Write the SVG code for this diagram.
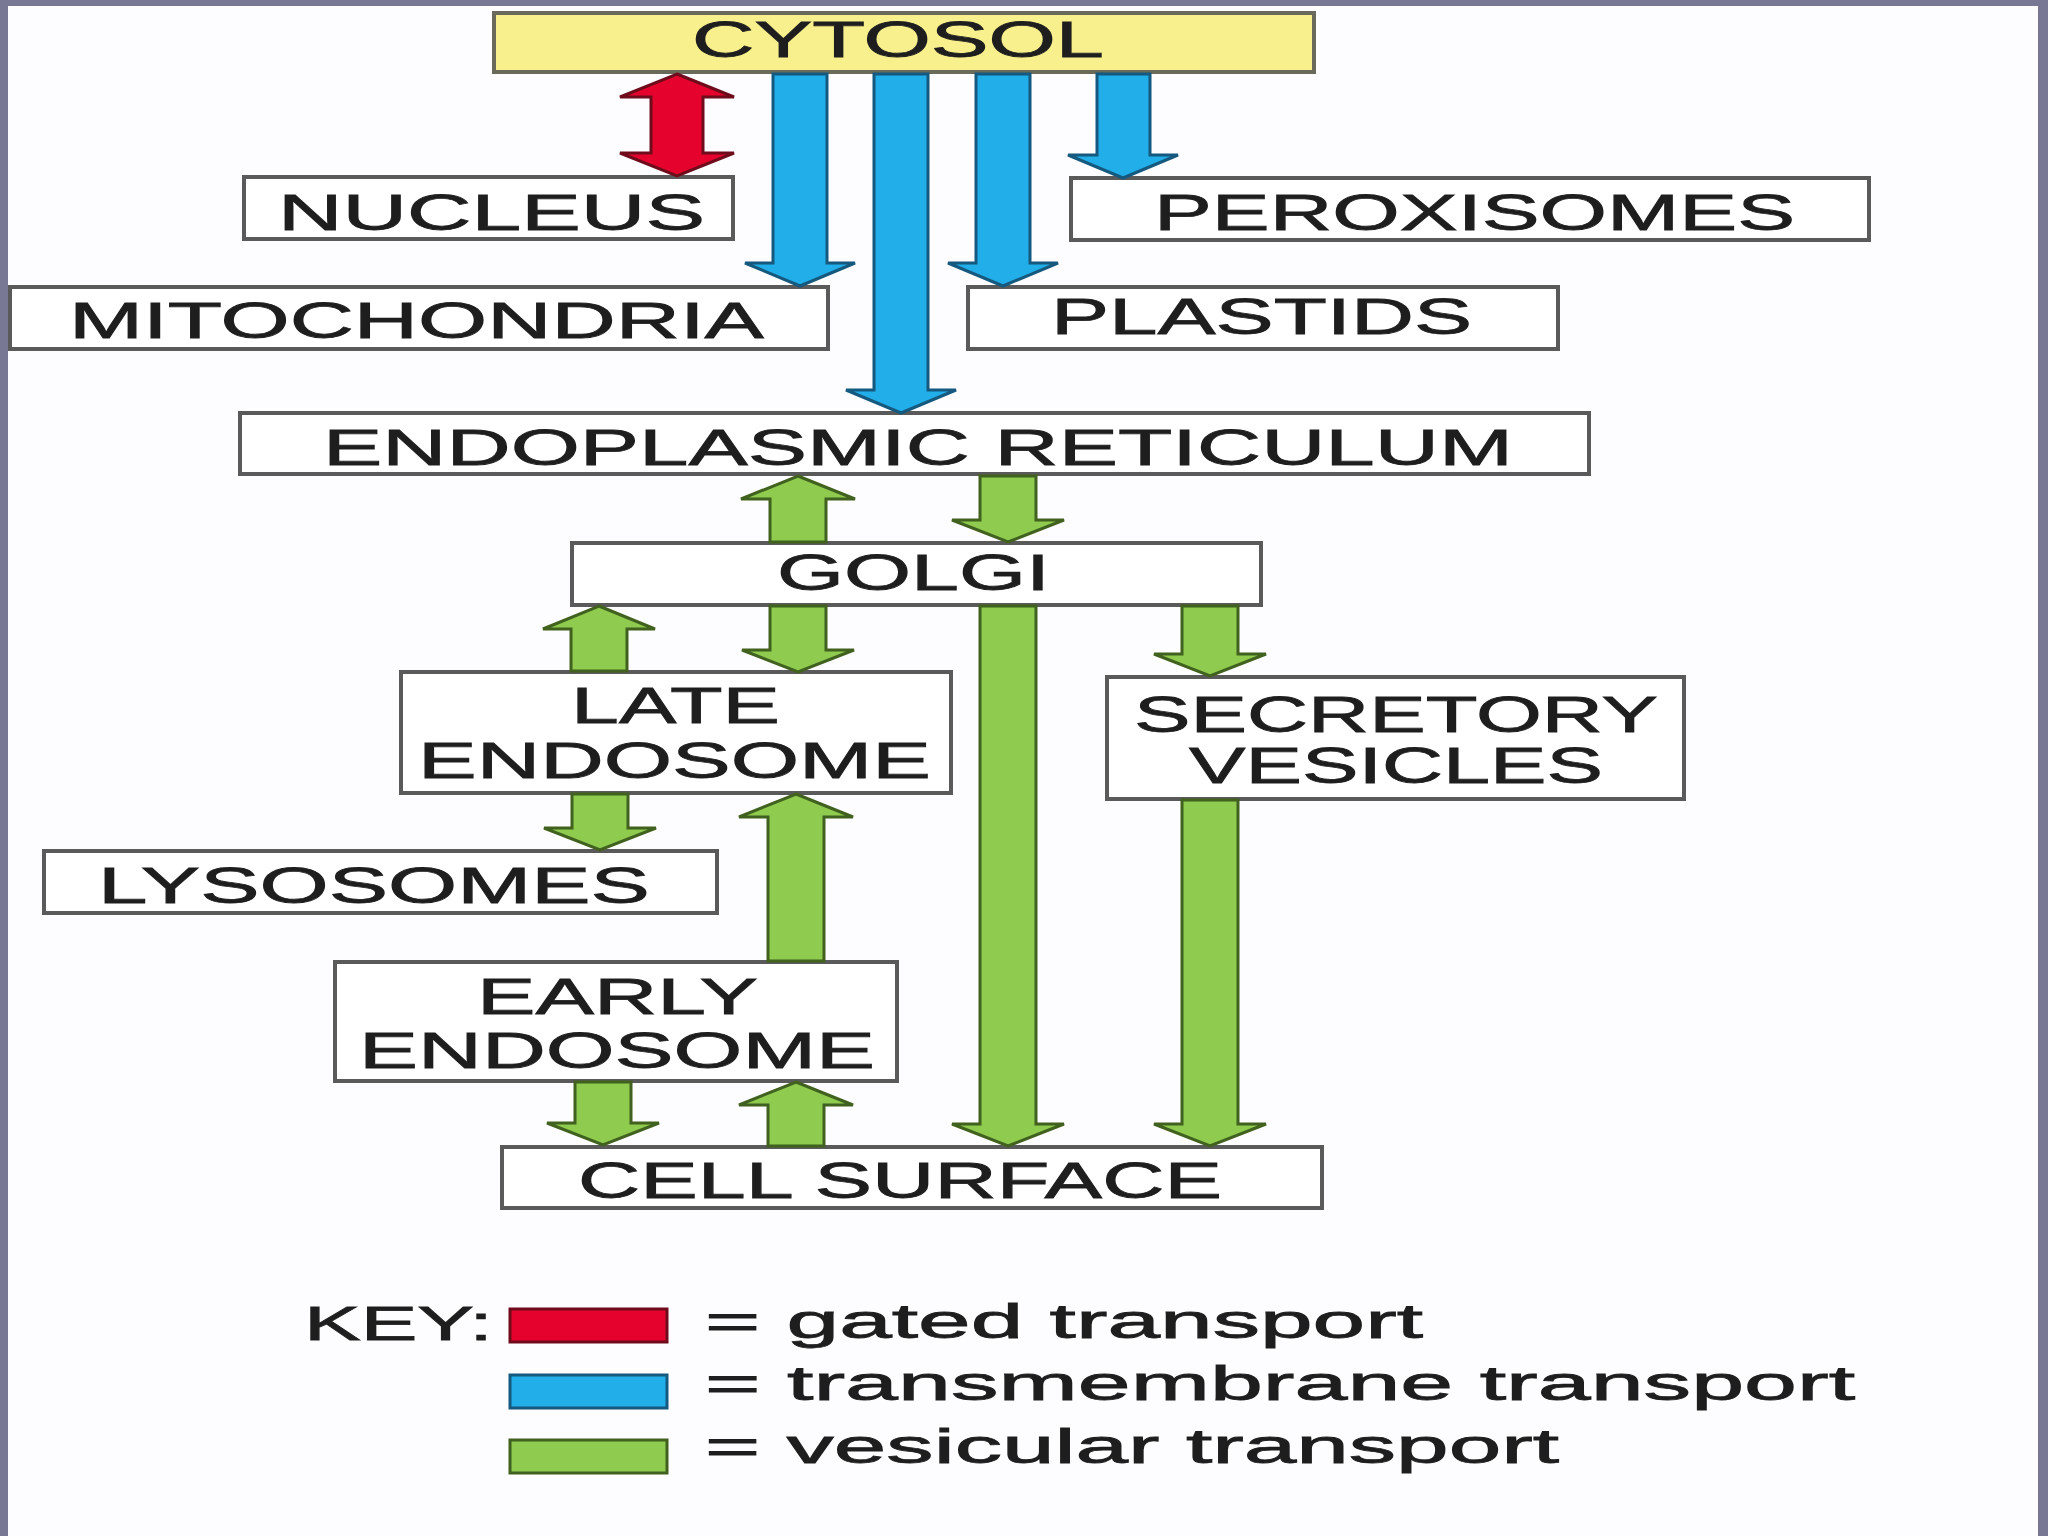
<svg xmlns="http://www.w3.org/2000/svg" width="2048" height="1536" viewBox="0 0 2048 1536">
<defs>
<style>
.bg{fill:#fdfdff}
.frame{fill:#787895}
.box{fill:#ffffff;stroke:#5a5a5a;stroke-width:4}
.cyto{fill:#f7f08c;stroke:#6a6a5a;stroke-width:4}
.lbl{font-family:"Liberation Sans",Arial,Helvetica,sans-serif;font-size:50px;fill:#1e1e1e;stroke:#1e1e1e;stroke-width:0.8}
.key{font-family:"Liberation Sans",Arial,Helvetica,sans-serif;font-size:48px;fill:#1e1e1e;stroke:#1e1e1e;stroke-width:0.8}
.red{fill:#e5022c;stroke:#6e0c1c;stroke-width:3;stroke-linejoin:miter}
.blue{fill:#22aee8;stroke:#15597f;stroke-width:3;stroke-linejoin:miter}
.green{fill:#8fcb4e;stroke:#41611f;stroke-width:3;stroke-linejoin:miter}
</style>
</defs>
<rect class="bg" x="0" y="0" width="2048" height="1536"/>
<rect class="frame" x="0" y="0" width="2048" height="6"/>
<rect class="frame" x="0" y="0" width="8" height="1536"/>
<rect class="frame" x="2038" y="0" width="10" height="1536"/>

<g id="cytosol"><rect class="cyto" x="494" y="13" width="820" height="59"/><text class="lbl" transform="translate(692,57) scale(1.75,1)" textLength="235.4" lengthAdjust="spacingAndGlyphs">CYTOSOL</text></g>
<g id="nucleus"><rect class="box" x="244" y="177" width="489" height="62"/><text class="lbl" transform="translate(278,230) scale(1.75,1)" textLength="244" lengthAdjust="spacingAndGlyphs">NUCLEUS</text></g>
<g id="peroxisomes"><rect class="box" x="1071" y="178" width="798" height="62"/><text class="lbl" transform="translate(1154,230) scale(1.75,1)" textLength="366.3" lengthAdjust="spacingAndGlyphs">PEROXISOMES</text></g>
<g id="mitochondria"><rect class="box" x="10" y="287" width="818" height="62"/><text class="lbl" transform="translate(69,338) scale(1.75,1)" textLength="397.1" lengthAdjust="spacingAndGlyphs">MITOCHONDRIA</text></g>
<g id="plastids"><rect class="box" x="968" y="287" width="590" height="62"/><text class="lbl" transform="translate(1051,334) scale(1.75,1)" textLength="240.6" lengthAdjust="spacingAndGlyphs">PLASTIDS</text></g>
<g id="er"><rect class="box" x="240" y="413" width="1349" height="61"/><text class="lbl" transform="translate(323,465) scale(1.75,1)" textLength="680" lengthAdjust="spacingAndGlyphs">ENDOPLASMIC RETICULUM</text></g>
<g id="golgi"><rect class="box" x="572" y="543" width="689" height="62"/><text class="lbl" transform="translate(777,590) scale(1.75,1)" textLength="156" lengthAdjust="spacingAndGlyphs">GOLGI</text></g>
<g id="late-endosome"><rect class="box" x="401" y="672" width="550" height="121"/><text class="lbl" transform="translate(571,723) scale(1.75,1)" textLength="119.4" lengthAdjust="spacingAndGlyphs">LATE</text><text class="lbl" transform="translate(418,778) scale(1.75,1)" textLength="293.1" lengthAdjust="spacingAndGlyphs">ENDOSOME</text></g>
<g id="secretory-vesicles"><rect class="box" x="1107" y="677" width="577" height="122"/><text class="lbl" transform="translate(1134,732) scale(1.75,1)" textLength="299.4" lengthAdjust="spacingAndGlyphs">SECRETORY</text><text class="lbl" transform="translate(1189,783) scale(1.75,1)" textLength="236.6" lengthAdjust="spacingAndGlyphs">VESICLES</text></g>
<g id="lysosomes"><rect class="box" x="44" y="851" width="673" height="62"/><text class="lbl" transform="translate(98,903) scale(1.75,1)" textLength="315.4" lengthAdjust="spacingAndGlyphs">LYSOSOMES</text></g>
<g id="early-endosome"><rect class="box" x="335" y="962" width="562" height="119"/><text class="lbl" transform="translate(477,1014) scale(1.75,1)" textLength="160.6" lengthAdjust="spacingAndGlyphs">EARLY</text><text class="lbl" transform="translate(359,1068) scale(1.75,1)" textLength="294.9" lengthAdjust="spacingAndGlyphs">ENDOSOME</text></g>
<g id="cell-surface"><rect class="box" x="502" y="1147" width="820" height="61"/><text class="lbl" transform="translate(578,1198) scale(1.75,1)" textLength="368" lengthAdjust="spacingAndGlyphs">CELL SURFACE</text></g>

<g id="connectors">
<polygon class="red" points="677,74 734,97 703,97 703,153 734,153 677,176 620,153 651,153 651,97 620,97"/>
<polygon class="blue" points="773,74 827,74 827,263 855,263 800,286 745,263 773,263"/>
<polygon class="blue" points="874,74 928,74 928,390 956,390 901,413 846,390 874,390"/>
<polygon class="blue" points="976,74 1030,74 1030,263 1058,263 1003,286 948,263 976,263"/>
<polygon class="blue" points="1097,74 1150,74 1150,155 1178,155 1123,178 1068,155 1097,155"/>
<polygon class="green" points="798,476 855,499 826,499 826,542 770,542 770,499 741,499"/>
<polygon class="green" points="980,476 1036,476 1036,520 1064,520 1008,542 952,520 980,520"/>
<polygon class="green" points="980,606 1036,606 1036,1124 1064,1124 1008,1146 952,1124 980,1124"/>
<polygon class="green" points="1182,606 1238,606 1238,654 1266,654 1210,676 1154,654 1182,654"/>
<polygon class="green" points="1182,800 1238,800 1238,1124 1266,1124 1210,1146 1154,1124 1182,1124"/>
<polygon class="green" points="599,606 655,629 627,629 627,671 571,671 571,629 543,629"/>
<polygon class="green" points="770,606 826,606 826,650 854,650 798,672 742,650 770,650"/>
<polygon class="green" points="572,794 628,794 628,828 656,828 600,850 544,828 572,828"/>
<polygon class="green" points="796,794 853,817 824,817 824,961 768,961 768,817 739,817"/>
<polygon class="green" points="575,1082 631,1082 631,1123 659,1123 603,1145 547,1123 575,1123"/>
<polygon class="green" points="796,1082 853,1105 824,1105 824,1146 768,1146 768,1105 739,1105"/>
</g>

<g id="key">
<text class="key" transform="translate(304,1340) scale(1.75,1)" textLength="108" lengthAdjust="spacingAndGlyphs">KEY:</text>
<rect class="red" x="510" y="1309" width="157" height="33"/>
<rect class="blue" x="510" y="1375" width="157" height="33"/>
<rect class="green" x="510" y="1440" width="157" height="33"/>
<text class="key" transform="translate(705,1338) scale(1.9,1)" textLength="377.9" lengthAdjust="spacingAndGlyphs">= gated transport</text>
<text class="key" transform="translate(705,1400) scale(1.9,1)" textLength="605.3" lengthAdjust="spacingAndGlyphs">= transmembrane transport</text>
<text class="key" transform="translate(705,1463) scale(1.9,1)" textLength="449.5" lengthAdjust="spacingAndGlyphs">= vesicular transport</text>
</g>
</svg>
